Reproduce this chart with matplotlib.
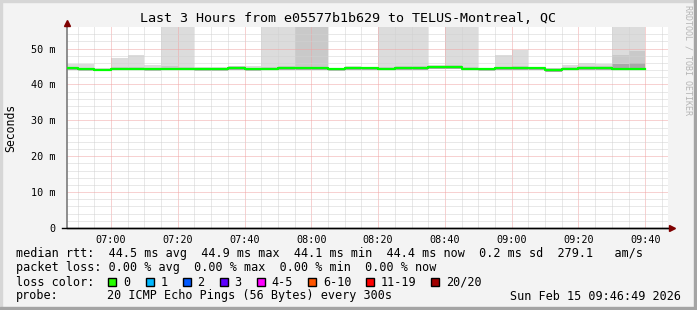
import matplotlib
matplotlib.use("Agg")
import matplotlib.pyplot as plt
from matplotlib.ticker import FuncFormatter
from matplotlib.patches import Rectangle
import numpy as np

W, H = 697, 310
MONO = "DejaVu Sans Mono"

# 5 minute bins (start time), values in ms
bins = ["06:45", "06:50", "06:55", "07:00", "07:05", "07:10", "07:15", "07:20",
        "07:25", "07:30", "07:35", "07:40", "07:45", "07:50", "07:55", "08:00",
        "08:05", "08:10", "08:15", "08:20", "08:25", "08:30", "08:35", "08:40",
        "08:45", "08:50", "08:55", "09:00", "09:05", "09:10", "09:15", "09:20",
        "09:25", "09:30", "09:35"]
median = [44.6, 44.3, 44.1, 44.4, 44.4, 44.3, 44.4, 44.4, 44.3, 44.3, 44.6, 44.2,
          44.4, 44.5, 44.5, 44.5, 44.3, 44.5, 44.5, 44.4, 44.5, 44.5, 44.8, 44.9,
          44.4, 44.2, 44.5, 44.5, 44.5, 44.1, 44.4, 44.5, 44.5, 44.4, 44.4]
ping_min = [44.0, 43.8, 43.7, 43.9, 43.9, 43.8, 43.9, 43.9, 43.8, 43.8, 44.0, 43.7,
            43.9, 44.0, 44.0, 44.0, 43.8, 44.0, 44.0, 43.9, 44.0, 44.0, 44.2, 44.3,
            43.9, 43.7, 44.0, 44.0, 44.0, 43.6, 43.9, 44.0, 44.0, 43.9, 43.9]
ping_max = [45.6, 45.6, 44.6, 47.3, 48.3, 45.3, 61.0, 58.9, 44.9, 44.8, 45.2, 45.0,
            63.5, 60.2, 74.8, 77.1, 44.7, 45.1, 44.9, 59.4, 62.7, 66.0, 45.3, 60.8,
            57.6, 44.6, 48.1, 49.6, 44.7, 44.7, 45.3, 46.1, 45.8, 65.2, 70.3]
mid_hi = [44.9, 44.7, 44.4, 44.8, 44.8, 44.7, 45.0, 44.9, 44.6, 44.6, 45.1, 44.6,
          44.9, 45.0, 62.0, 64.5, 44.6, 44.9, 44.8, 44.9, 45.0, 45.1, 45.1, 45.3,
          44.8, 44.5, 44.9, 45.0, 44.8, 44.5, 44.9, 45.2, 45.1, 48.1, 49.4]
inner_hi = [44.7, 44.5, 44.3, 44.6, 44.6, 44.5, 44.6, 44.6, 44.4, 44.5, 44.9, 44.4,
            44.6, 44.7, 44.7, 44.7, 44.5, 44.7, 44.7, 44.6, 44.7, 44.7, 45.0, 45.1,
            44.6, 44.4, 44.7, 44.7, 44.7, 44.3, 44.6, 44.8, 44.7, 45.7, 46.0]

y_ticks = [0, 10, 20, 30, 40, 50]
x_ticks = ["07:00", "07:20", "07:40", "08:00", "08:20", "08:40", "09:00", "09:20", "09:40"]

loss_labels = ["0", "1", "2", "3", "4-5", "6-10", "11-19", "20/20"]
loss_colors = ["#26ff00", "#00b8ff", "#0059ff", "#5e00ff", "#ff00ff", "#ff5500", "#ff0000", "#a10000"]


def to_min(s):
    h, m = s.split(":")
    return int(h) * 60 + int(m)


def ext(v):
    return list(v) + [v[-1]]


def fx(px):
    return px / W


def fy(py):
    return 1 - py / H


edges = [to_min(b) for b in bins] + [to_min(bins[-1]) + 5]

fig = plt.figure(figsize=(W / 100, H / 100), dpi=100, facecolor="#f3f3f3")
ax = fig.add_axes([fx(67), fy(228), fx(668) - fx(67), fy(27) - fy(228)])
ax.set_facecolor("white")

ax.fill_between(edges, ext(ping_min), ext(ping_max), step="post", color="#dcdcdc", lw=0)
ax.fill_between(edges, ext(ping_min), ext(mid_hi), step="post", color="#c9c9c9", lw=0)
ax.fill_between(edges, ext(ping_min), ext(inner_hi), step="post", color="#a8a8a8", lw=0)
ax.step(edges, ext(median), where="post", color="#00ff00", lw=1.6, zorder=3)

ax.set_xlim(to_min("06:46") + 49 / 60, to_min("09:46") + 49 / 60)
ax.set_ylim(0, 56)
ax.set_xticks([to_min(t) for t in x_ticks])
ax.set_xticks(np.arange(to_min("06:50"), to_min("09:50"), 5), minor=True)
ax.set_yticks(y_ticks)
ax.set_yticks(np.arange(0, 56, 2), minor=True)
ax.xaxis.set_major_formatter(FuncFormatter(lambda m, p: "%02d:%02d" % (int(m) // 60, int(m) % 60)))
ax.yaxis.set_major_formatter(FuncFormatter(lambda v, p: "0" if v == 0 else "%d m" % v))

ax.set_axisbelow("line")
ax.grid(which="minor", color="#d2d2d2", linestyle=(0, (1, 1)), lw=0.72)
ax.grid(which="major", color="#f0a4a4", linestyle=(0, (1, 1)), lw=0.72)
ax.tick_params(which="both", length=0)
ax.tick_params(axis="x", pad=5, labelsize=7.3)
ax.tick_params(axis="y", pad=8, labelsize=7.3)
for lab in ax.get_xticklabels() + ax.get_yticklabels():
    lab.set_family(MONO)

for s in ["top", "right"]:
    ax.spines[s].set_visible(False)
ax.spines["left"].set_color("#7a7a7a")
ax.spines["left"].set_linewidth(1.2)
ax.spines["bottom"].set_color("black")
ax.spines["bottom"].set_linewidth(1.0)

# axis extensions and arrows
ax.plot([-0.008, 1.006], [0, 0], transform=ax.transAxes, color="black", lw=1.0, clip_on=False, zorder=4)
ax.plot([0, 0], [1.0, 1.015], transform=ax.transAxes, color="#7a7a7a", lw=1.2, clip_on=False, zorder=4)
ax.plot([1.007], [0], marker=">", ms=4.5, color="#7f0000", transform=ax.transAxes, clip_on=False, zorder=5)
ax.plot([0], [1.022], marker="^", ms=4.5, color="#7f0000", transform=ax.transAxes, clip_on=False, zorder=5)

# title and side texts
fig.text(fx(348), fy(19), "Last 3 Hours from e05577b1b629 to TELUS-Montreal, QC",
         ha="center", va="center", family=MONO, fontsize=9.6)
fig.text(fx(11), fy(128), "Seconds", rotation=90, ha="center", va="center", family=MONO, fontsize=8.3)
fig.text(fx(688), fy(5), "RRDTOOL / TOBI OETIKER", rotation=270, ha="center", va="top",
         family=MONO, fontsize=6, color="#b5b5b5")

# legend rows
fs = 8.5
fig.text(fx(16), fy(254), "median rtt:  44.5 ms avg  44.9 ms max  44.1 ms min  44.4 ms now  0.2 ms sd  279.1   am/s",
         ha="left", va="center", family=MONO, fontsize=fs)
fig.text(fx(16), fy(268), "packet loss: 0.00 % avg  0.00 % max  0.00 % min  0.00 % now",
         ha="left", va="center", family=MONO, fontsize=fs)
fig.text(fx(16), fy(282), "loss color:", ha="left", va="center", family=MONO, fontsize=fs)
box_x = [108, 145.5, 182.5, 219.5, 256.5, 308, 366, 431]
for bx, lab, col in zip(box_x, loss_labels, loss_colors):
    fig.patches.append(Rectangle((fx(bx), fy(286)), fx(8), 8 / H, transform=fig.transFigure,
                                 facecolor=col, edgecolor="black", lw=1.0))
    fig.text(fx(bx + 15), fy(282), lab, ha="left", va="center", family=MONO, fontsize=fs)
fig.text(fx(16), fy(296), "probe:", ha="left", va="center", family=MONO, fontsize=fs)
fig.text(fx(107), fy(296), "20 ICMP Echo Pings (56 Bytes) every 300s",
         ha="left", va="center", family=MONO, fontsize=fs)
fig.text(fx(681), fy(296), "Sun Feb 15 09:46:49 2026", ha="right", va="center", family=MONO, fontsize=fs)

# 3d frame
fig.patches.append(Rectangle((0, 1 - 2 / H), 1, 2 / H, transform=fig.transFigure, color="#d6d6d6"))
fig.patches.append(Rectangle((0, 0), 2 / W, 1, transform=fig.transFigure, color="#d6d6d6"))
fig.patches.append(Rectangle((1 - 3 / W, 0), 3 / W, 1, transform=fig.transFigure, color="#a4a4a4"))
fig.patches.append(Rectangle((0, 0), 1, 3 / H, transform=fig.transFigure, color="#a4a4a4"))

fig.savefig("out.png", dpi=100, facecolor=fig.get_facecolor())
